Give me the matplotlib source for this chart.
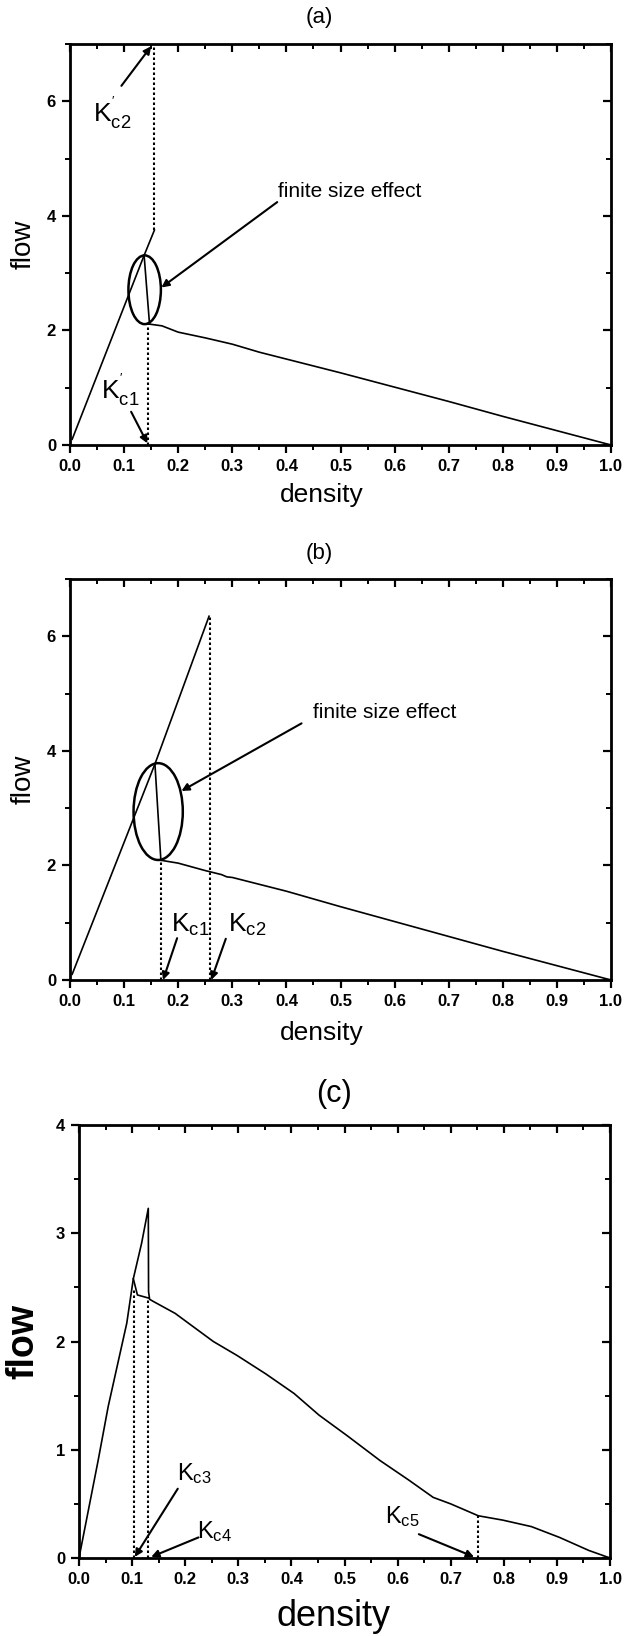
import matplotlib.pyplot as plt
from matplotlib.patches import Ellipse
from matplotlib.ticker import MultipleLocator

plt.rcParams['font.family'] = ['Liberation Sans', 'DejaVu Sans']
plt.rcParams['mathtext.fontset'] = 'custom'
plt.rcParams['mathtext.rm'] = 'Liberation Sans'
plt.rcParams['mathtext.it'] = 'Liberation Sans:italic'
plt.rcParams['mathtext.bf'] = 'Liberation Sans:bold'

# ---- panel (a) data ----
a_free_x = [0.004, 0.137, 0.156]
a_free_y = [0.10, 3.31, 3.75]
a_drop_x = [0.137, 0.147]
a_drop_y = [3.31, 2.11]
a_cong_x = [0.147, 0.17, 0.20, 0.25, 0.30, 0.35, 0.40, 0.50, 0.60, 0.70, 0.80, 0.90, 1.00]
a_cong_y = [2.11, 2.08, 1.97, 1.87, 1.76, 1.62, 1.50, 1.26, 1.01, 0.76, 0.50, 0.25, 0.00]
a_kc1 = 0.144
a_kc2 = 0.156

# ---- panel (b) data ----
b_free_x = [0.004, 0.157, 0.257]
b_free_y = [0.10, 3.77, 6.35]
b_drop_x = [0.157, 0.168]
b_drop_y = [3.77, 2.09]
b_cong_x = [0.168, 0.20, 0.25, 0.28, 0.29, 0.30, 0.40, 0.50, 0.60, 0.70, 0.80, 0.90, 1.00]
b_cong_y = [2.09, 2.04, 1.91, 1.84, 1.80, 1.79, 1.55, 1.28, 1.02, 0.76, 0.50, 0.25, 0.00]
b_kc1 = 0.168
b_kc2 = 0.259

# ---- panel (c) data ----
c_main_x = [0.0, 0.036, 0.055, 0.090, 0.1023, 0.118, 0.1305, 0.1310, 0.133, 0.140, 0.181,
            0.253, 0.298, 0.352, 0.405, 0.452, 0.505, 0.567, 0.621, 0.667, 0.700, 0.752,
            0.798, 0.852, 0.905, 0.960, 1.000]
c_main_y = [0.0, 0.90, 1.40, 2.17, 2.58, 2.91, 3.23, 2.46, 2.39, 2.37, 2.26,
            2.00, 1.87, 1.70, 1.52, 1.32, 1.13, 0.90, 0.72, 0.56, 0.50, 0.39,
            0.35, 0.29, 0.19, 0.07, 0.00]
c_branch_x = [0.1023, 0.110, 0.132]
c_branch_y = [2.58, 2.43, 2.40]
c_kc3, c_kc3_top = 0.1036, 2.49
c_kc4, c_kc4_top = 0.1305, 2.41
c_kc5, c_kc5_top = 0.752, 0.39


def style_axes(ax, ymax, ymajor, yminor, tick_size=12):
    ax.set_xlim(0, 1)
    ax.set_ylim(0, ymax)
    ax.xaxis.set_major_locator(MultipleLocator(0.1))
    ax.xaxis.set_minor_locator(MultipleLocator(0.05))
    ax.yaxis.set_major_locator(MultipleLocator(ymajor))
    ax.yaxis.set_minor_locator(MultipleLocator(yminor))
    ax.xaxis.set_major_formatter(plt.FormatStrFormatter('%.1f'))
    ax.yaxis.set_major_formatter(plt.FormatStrFormatter('%g'))
    for s in ax.spines.values():
        s.set_linewidth(2)
    ax.tick_params(which='major', direction='out', length=6, width=1.6,
                   labelsize=tick_size, pad=4)
    ax.tick_params(which='minor', direction='out', length=3.5, width=1.4)
    for lab in ax.get_xticklabels() + ax.get_yticklabels():
        lab.set_fontweight('bold')
    # mirrored ticks pointing inward on top and right
    tx = ax.secondary_xaxis('top')
    tx.xaxis.set_major_locator(MultipleLocator(0.1))
    tx.xaxis.set_minor_locator(MultipleLocator(0.05))
    tx.tick_params(which='major', direction='in', length=6, width=1.6, labeltop=False)
    tx.tick_params(which='minor', direction='in', length=3.5, width=1.4)
    ty = ax.secondary_yaxis('right')
    ty.yaxis.set_major_locator(MultipleLocator(ymajor))
    ty.yaxis.set_minor_locator(MultipleLocator(yminor))
    ty.tick_params(which='major', direction='in', length=6, width=1.6, labelright=False)
    ty.tick_params(which='minor', direction='in', length=3.5, width=1.4)


arrow = dict(arrowstyle='-|>', color='k', lw=1.5, mutation_scale=11,
             shrinkA=0, shrinkB=0)
dots = dict(color='k', lw=1.5, linestyle=(0, (1.2, 1.2)))
LW = 1.2

fig = plt.figure(figsize=(6.41, 16.36), dpi=100)
W, H = 641, 1636

# ================= (a) =================
ax = fig.add_axes([70 / W, (H - 445) / H, 541 / W, 401 / H])
style_axes(ax, 7, 2, 1)
ax.plot(a_free_x, a_free_y, color='k', lw=LW)
ax.plot(a_drop_x, a_drop_y, color='k', lw=LW)
ax.plot(a_cong_x, a_cong_y, color='k', lw=LW)
ax.plot([a_kc1, a_kc1], [0, a_cong_y[0]], **dots)
ax.plot([a_kc2, a_kc2], [a_free_y[-1], 7], **dots)
ax.add_patch(Ellipse((0.138, 2.71), 0.060, 1.20, fill=False, lw=1.8, color='k'))
ax.annotate('', xy=(0.169, 2.75), xytext=(0.383, 4.24), arrowprops=arrow)
ax.text(0.385, 4.42, 'finite size effect', fontsize=15, va='center', ha='left')
ax.annotate('', xy=(0.143, 0.03), xytext=(0.113, 0.58), arrowprops=arrow)
ax.text(0.093, 0.96, r"$\mathrm{K}^{'}_{\mathrm{c1}}$", fontsize=19, ha='center', va='center')
ax.annotate('', xy=(0.150, 6.96), xytext=(0.095, 6.27), arrowprops=arrow)
ax.text(0.078, 5.80, r"$\mathrm{K}^{'}_{\mathrm{c2}}$", fontsize=19, ha='center', va='center')
ax.set_xlabel('density', fontsize=19)
ax.xaxis.set_label_coords(0.465, -50 / 401)
ax.xaxis.label.set_va('center')
ax.set_ylabel('flow', fontsize=20)
ax.yaxis.set_label_coords(-46 / 541, 0.5)
ax.yaxis.label.set_va('center')
fig.text(0.46 * 541 / W + 70 / W, 1 - 17 / H, '(a)', fontsize=16, ha='center', va='center')

# ================= (b) =================
ax = fig.add_axes([70 / W, (H - 980) / H, 541 / W, 401 / H])
style_axes(ax, 7, 2, 1)
ax.plot(b_free_x, b_free_y, color='k', lw=LW)
ax.plot(b_drop_x, b_drop_y, color='k', lw=LW)
ax.plot(b_cong_x, b_cong_y, color='k', lw=LW)
ax.plot([b_kc1, b_kc1], [0, b_cong_y[0]], **dots)
ax.plot([b_kc2, b_kc2], [0, b_free_y[-1]], **dots)
ax.add_patch(Ellipse((0.163, 2.94), 0.091, 1.69, fill=False, lw=1.8, color='k'))
ax.annotate('', xy=(0.206, 3.30), xytext=(0.428, 4.48), arrowprops=arrow)
ax.text(0.45, 4.67, 'finite size effect', fontsize=15, va='center', ha='left')
ax.annotate('', xy=(0.172, 0.0), xytext=(0.198, 0.73), arrowprops=arrow)
ax.text(0.222, 0.96, r"$\mathrm{K}_{\mathrm{c1}}$", fontsize=19, ha='center', va='center')
ax.annotate('', xy=(0.261, 0.0), xytext=(0.288, 0.72), arrowprops=arrow)
ax.text(0.327, 0.96, r"$\mathrm{K}_{\mathrm{c2}}$", fontsize=19, ha='center', va='center')
ax.set_xlabel('density', fontsize=19)
ax.xaxis.set_label_coords(0.465, -53 / 401)
ax.xaxis.label.set_va('center')
ax.set_ylabel('flow', fontsize=20)
ax.yaxis.set_label_coords(-46 / 541, 0.5)
ax.yaxis.label.set_va('center')
fig.text(0.46 * 541 / W + 70 / W, 1 - 554 / H, '(b)', fontsize=16, ha='center', va='center')

# ================= (c) =================
ax = fig.add_axes([79 / W, (H - 1558) / H, 531 / W, 433 / H])
style_axes(ax, 4, 1, 0.5)
ax.plot(c_main_x, c_main_y, color='k', lw=LW)
ax.plot(c_branch_x, c_branch_y, color='k', lw=LW)
ax.plot([c_kc3, c_kc3], [0, c_kc3_top], **dots)
ax.plot([c_kc4, c_kc4], [0, c_kc4_top], **dots)
ax.plot([c_kc5, c_kc5], [0, c_kc5_top], **dots)
ax.annotate('', xy=(0.105, 0.01), xytext=(0.186, 0.64), arrowprops=arrow)
ax.text(0.217, 0.78, r"$\mathrm{K}_{\mathrm{c3}}$", fontsize=17, ha='center', va='center')
ax.annotate('', xy=(0.136, 0.01), xytext=(0.225, 0.19), arrowprops=arrow)
ax.text(0.255, 0.24, r"$\mathrm{K}_{\mathrm{c4}}$", fontsize=17, ha='center', va='center')
ax.annotate('', xy=(0.744, 0.01), xytext=(0.640, 0.22), arrowprops=arrow)
ax.text(0.609, 0.38, r"$\mathrm{K}_{\mathrm{c5}}$", fontsize=17, ha='center', va='center')
ax.set_xlabel('density', fontsize=26)
ax.xaxis.set_label_coords(0.48, -59 / 433)
ax.xaxis.label.set_va('center')
ax.set_ylabel('flow', fontsize=27, fontweight='bold')
ax.yaxis.set_label_coords(-56 / 531, 0.5)
ax.yaxis.label.set_va('center')
fig.text(0.48 * 531 / W + 79 / W, 1 - 1094 / H, '(c)', fontsize=22, ha='center', va='center')

fig.savefig('out.png', dpi=100)
